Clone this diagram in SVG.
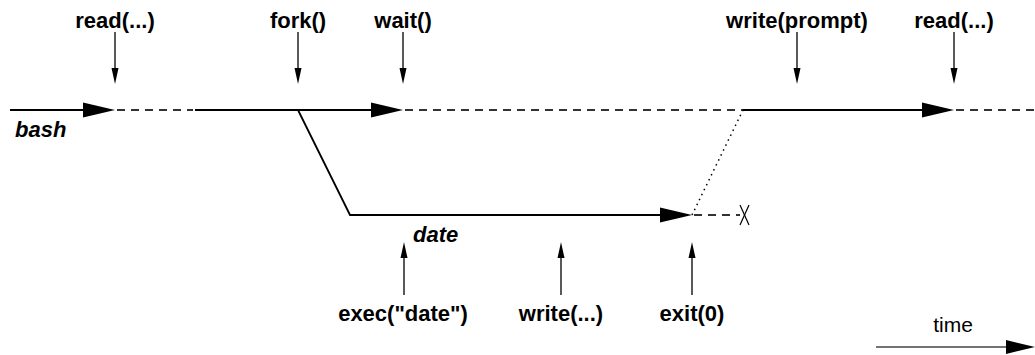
<svg xmlns="http://www.w3.org/2000/svg" width="1035" height="355" viewBox="0 0 1035 355">
<style>
.lbl{font-family:"Liberation Sans",Arial,sans-serif;font-weight:bold;font-size:22px;fill:#000;text-anchor:middle}
.proc{font-family:"Liberation Sans",Arial,sans-serif;font-weight:bold;font-style:italic;font-size:22px;fill:#000}
.time{font-family:"Liberation Sans",Arial,sans-serif;font-size:21px;fill:#000;text-anchor:middle}
.solid{stroke:#000;stroke-width:2;fill:none}
.dash{stroke:#333;stroke-width:2;fill:none;stroke-dasharray:8 6}
.call{stroke:#000;stroke-width:1.3;fill:none}
.head{fill:#000}
</style>
<g id="connectors">
  <line class="solid" x1="10" y1="110" x2="90" y2="110"/>
  <polygon class="head" points="83,102.5 115,110 83,117.5"/>
  <line class="dash" x1="117" y1="110" x2="193" y2="110"/>
  <line class="solid" x1="195" y1="110" x2="380" y2="110"/>
  <polygon class="head" points="371,102.5 403,110 371,117.5"/>
  <line class="dash" x1="405" y1="110" x2="743" y2="110"/>
  <line class="solid" x1="743" y1="110" x2="930" y2="110"/>
  <polygon class="head" points="922,102.5 954,110 922,117.5"/>
  <line class="dash" x1="956" y1="110" x2="1035" y2="110"/>
  <polyline class="solid" points="298,110 350,215 670,215" style="stroke-width:1.8"/>
  <polygon class="head" points="660,207.5 692,215 660,222.5"/>
  <line class="dash" x1="694" y1="215" x2="740" y2="215"/>
  <line x1="740" y1="205" x2="749" y2="225" stroke="#000" stroke-width="1.2"/>
  <line x1="749" y1="205" x2="740" y2="225" stroke="#000" stroke-width="1.2"/>
  <line x1="692" y1="215" x2="743" y2="110" stroke="#000" stroke-width="1.5" stroke-dasharray="1.5 4"/>
  <line class="call" x1="115" y1="32" x2="115" y2="70"/>
  <polygon class="head" points="111.5,68 118.5,68 115,84"/>
  <line class="call" x1="298" y1="32" x2="298" y2="70"/>
  <polygon class="head" points="294.5,68 301.5,68 298,84"/>
  <line class="call" x1="403" y1="32" x2="403" y2="70"/>
  <polygon class="head" points="399.5,68 406.5,68 403,84"/>
  <line class="call" x1="797" y1="32" x2="797" y2="70"/>
  <polygon class="head" points="793.5,68 800.5,68 797,84"/>
  <line class="call" x1="954" y1="32" x2="954" y2="70"/>
  <polygon class="head" points="950.5,68 957.5,68 954,84"/>
  <line class="call" x1="404" y1="295" x2="404" y2="256"/>
  <polygon class="head" points="400.5,258 407.5,258 404,242"/>
  <line class="call" x1="561" y1="295" x2="561" y2="256"/>
  <polygon class="head" points="557.5,258 564.5,258 561,242"/>
  <line class="call" x1="692" y1="295" x2="692" y2="256"/>
  <polygon class="head" points="688.5,258 695.5,258 692,242"/>
  <line x1="876" y1="347" x2="1010" y2="347" stroke="#444" stroke-width="1.3"/>
  <polygon class="head" points="1006,340 1035,347 1006,354"/>
</g>
<g id="node-bash"><text class="proc" x="15" y="137">bash</text></g>
<g id="node-date"><text class="proc" x="413" y="242">date</text></g>
<g id="node-read1"><text class="lbl" x="115" y="28">read(...)</text></g>
<g id="node-fork"><text class="lbl" x="298" y="28">fork()</text></g>
<g id="node-wait"><text class="lbl" x="403" y="28">wait()</text></g>
<g id="node-writeprompt"><text class="lbl" x="797" y="28">write(prompt)</text></g>
<g id="node-read2"><text class="lbl" x="954" y="28">read(...)</text></g>
<g id="node-exec"><text class="lbl" x="403" y="321">exec("date")</text></g>
<g id="node-write"><text class="lbl" x="561" y="321">write(...)</text></g>
<g id="node-exit"><text class="lbl" x="692" y="321">exit(0)</text></g>
<g id="node-time"><text class="time" x="953" y="332">time</text></g>
</svg>
